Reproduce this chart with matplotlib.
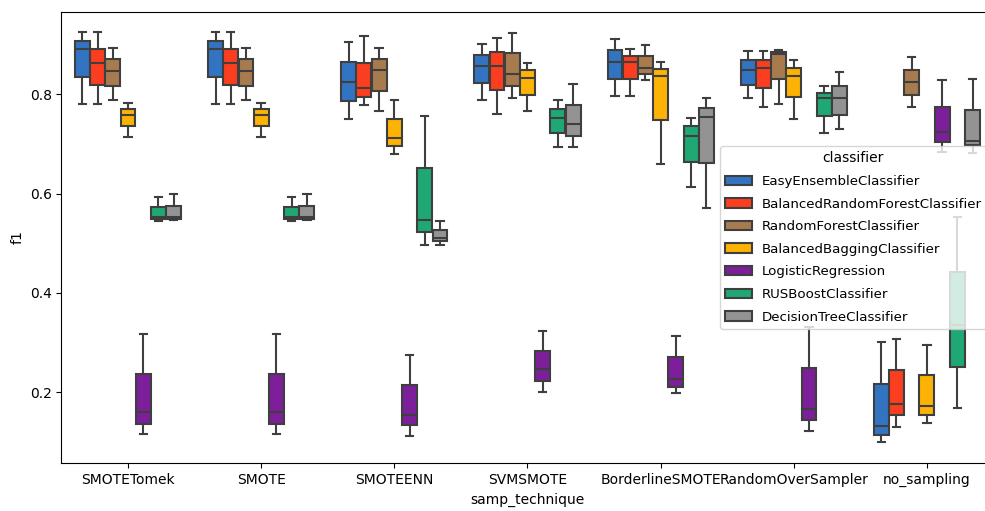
import matplotlib.pyplot as plt
from matplotlib.patches import Patch
import numpy as np

# sampling techniques on the x axis
techniques = ['SMOTETomek', 'SMOTE', 'SMOTEENN', 'SVMSMOTE', 'BorderlineSMOTE',
              'RandomOverSampler', 'no_sampling']

classifiers = ['EasyEnsembleClassifier', 'BalancedRandomForestClassifier',
               'RandomForestClassifier', 'BalancedBaggingClassifier',
               'LogisticRegression', 'RUSBoostClassifier', 'DecisionTreeClassifier']

colors = ['#3274c1', '#fb3e1f', '#a87b4f', '#fdb306', '#7d1f9b', '#1fa774', '#939393']

# box summaries: (whisker low, q1, median, q3, whisker high)
easy_ensemble = [(0.780, 0.834, 0.891, 0.908, 0.925), (0.780, 0.834, 0.891, 0.908, 0.925),
                 (0.751, 0.786, 0.824, 0.864, 0.905), (0.789, 0.823, 0.856, 0.879, 0.901),
                 (0.797, 0.830, 0.864, 0.888, 0.912), (0.793, 0.819, 0.848, 0.868, 0.887),
                 (0.100, 0.115, 0.133, 0.216, 0.301)]
balanced_rf = [(0.780, 0.819, 0.862, 0.891, 0.925), (0.780, 0.819, 0.862, 0.891, 0.925),
               (0.779, 0.795, 0.812, 0.862, 0.917), (0.760, 0.809, 0.856, 0.885, 0.914),
               (0.797, 0.830, 0.864, 0.876, 0.890), (0.775, 0.812, 0.852, 0.868, 0.887),
               (0.131, 0.155, 0.176, 0.244, 0.307)]
random_forest = [(0.789, 0.817, 0.846, 0.870, 0.892), (0.789, 0.817, 0.846, 0.870, 0.892),
                 (0.766, 0.806, 0.848, 0.870, 0.892), (0.793, 0.817, 0.841, 0.883, 0.923),
                 (0.828, 0.841, 0.852, 0.876, 0.899), (0.781, 0.830, 0.881, 0.885, 0.889),
                 (0.775, 0.799, 0.824, 0.848, 0.874)]
balanced_bagging = [(0.713, 0.735, 0.758, 0.770, 0.782), (0.713, 0.735, 0.758, 0.770, 0.782),
                    (0.680, 0.696, 0.711, 0.751, 0.789), (0.766, 0.799, 0.832, 0.848, 0.863),
                    (0.660, 0.748, 0.837, 0.850, 0.864), (0.751, 0.795, 0.837, 0.852, 0.868),
                    (0.138, 0.155, 0.172, 0.234, 0.296)]
logistic = [(0.117, 0.136, 0.160, 0.236, 0.317), (0.117, 0.136, 0.160, 0.236, 0.317),
            (0.113, 0.134, 0.155, 0.215, 0.276), (0.201, 0.223, 0.246, 0.283, 0.323),
            (0.199, 0.211, 0.227, 0.270, 0.313), (0.122, 0.144, 0.167, 0.248, 0.332),
            (0.684, 0.703, 0.723, 0.775, 0.828)]
rusboost = [(0.545, 0.548, 0.553, 0.573, 0.594), (0.545, 0.548, 0.553, 0.573, 0.594),
            (0.497, 0.522, 0.546, 0.652, 0.757), (0.693, 0.721, 0.753, 0.770, 0.789),
            (0.614, 0.664, 0.716, 0.736, 0.753), (0.722, 0.757, 0.793, 0.803, 0.817),
            (0.168, 0.250, 0.335, 0.442, 0.552)]
decision_tree = [(0.546, 0.549, 0.553, 0.575, 0.599), (0.546, 0.549, 0.553, 0.575, 0.599),
                 (0.497, 0.504, 0.511, 0.526, 0.544), (0.693, 0.715, 0.739, 0.779, 0.821),
                 (0.570, 0.662, 0.755, 0.773, 0.793), (0.729, 0.759, 0.793, 0.816, 0.844),
                 (0.681, 0.698, 0.705, 0.768, 0.830)]

all_stats = [easy_ensemble, balanced_rf, random_forest, balanced_bagging,
             logistic, rusboost, decision_tree]

fig = plt.figure(figsize=(9.85, 5.11), dpi=100)
ax = fig.add_axes([0.0624, 0.0933, 0.9462, 0.8838])

line_col = '#3f3f3f'
n_hue = len(classifiers)
width = 0.8 / n_hue
x = np.arange(len(techniques))

for j, (stats, col) in enumerate(zip(all_stats, colors)):
    offset = (j - (n_hue - 1) / 2) * width
    boxes = [dict(whislo=s[0], q1=s[1], med=s[2], q3=s[3], whishi=s[4], fliers=[])
             for s in stats]
    ax.bxp(boxes, positions=x + offset, widths=width * 0.98, patch_artist=True,
           showfliers=False, manage_ticks=False,
           boxprops=dict(facecolor=col, edgecolor=line_col, linewidth=1.5),
           medianprops=dict(color=line_col, linewidth=1.5),
           whiskerprops=dict(color=line_col, linewidth=1.5),
           capprops=dict(color=line_col, linewidth=1.5))

ax.set_xticks(x)
ax.set_xticklabels(techniques)
ax.set_xlim(-0.5, len(techniques) - 0.5)
ax.set_ylim(0.057, 0.966)
ax.set_yticks([0.2, 0.4, 0.6, 0.8])
ax.set_xlabel('samp_technique')
ax.set_ylabel('f1')

# legend anchored by its left edge so the long label stays inside the picture
handles = [Patch(facecolor=c, edgecolor=line_col, linewidth=1.5) for c in colors]
ax.legend(handles, classifiers, title='classifier', loc='center left',
          bbox_to_anchor=(0.7066, 0.5), borderaxespad=0, labelspacing=0.72,
          fontsize=9.6, title_fontsize=10, handletextpad=0.7)

plt.savefig('out.png')
plt.close(fig)
